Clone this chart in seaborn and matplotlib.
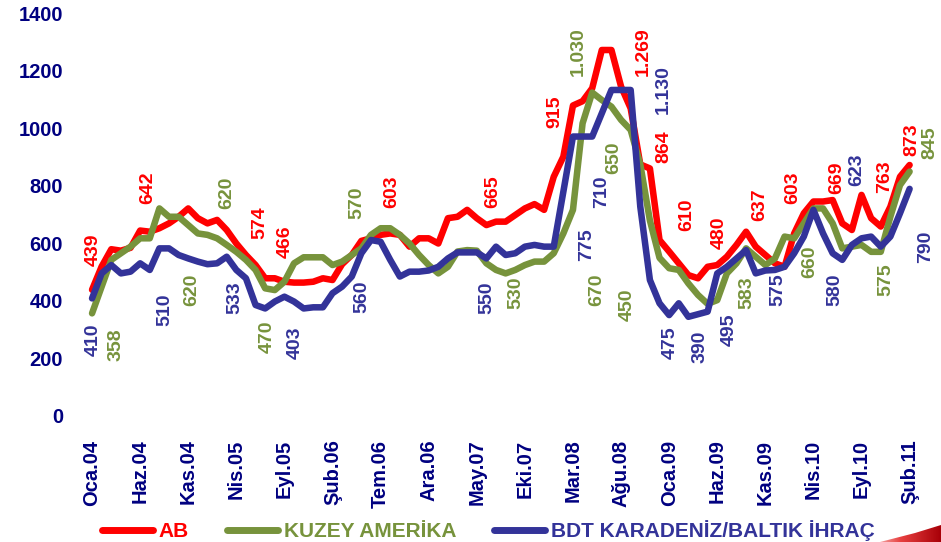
import numpy as np
import pandas as pd
import matplotlib
matplotlib.use("Agg")
import matplotlib.pyplot as plt
from matplotlib.lines import Line2D
from matplotlib.patches import Polygon
from matplotlib.colors import LinearSegmentedColormap
import seaborn as sns

# Monthly values, Oca.04 .. Şub.11 (86 months)
ab = [439, 520, 580, 575, 585, 645, 641, 653, 670, 693,
      722, 688, 670, 682, 647, 600, 560, 525, 479, 479,
      467, 464, 464, 467, 479, 473, 528, 560, 609, 618,
      630, 635, 630, 589, 618, 618, 600, 688, 693, 717,
      688, 664, 676, 676, 699, 722, 737, 717, 832, 902,
      1080, 1095, 1140, 1273, 1273, 1146, 1070, 875, 861, 612,
      572, 531, 490, 479, 519, 525, 554, 595, 641, 589,
      560, 531, 519, 635, 705, 746, 746, 751, 670, 647,
      769, 688, 659, 728, 832, 873]
kuzey = [357, 450, 543, 566, 589, 618, 618, 722, 693, 693,
         664, 635, 630, 618, 595, 571, 543, 508, 444, 438,
         467, 531, 552, 552, 552, 525, 537, 560, 583, 630,
         653, 653, 630, 600, 560, 525, 496, 519, 572, 577,
         575, 531, 508, 496, 508, 525, 537, 537, 566, 635,
         717, 1018, 1125, 1099, 1076, 1030, 995, 875, 680, 550,
         514, 508, 461, 421, 390, 403, 496, 531, 583, 554,
         525, 548, 624, 618, 670, 722, 722, 670, 583, 589,
         595, 571, 571, 693, 803, 850]
bdt = [409, 496, 525, 496, 502, 531, 508, 583, 583, 560,
       548, 537, 528, 531, 554, 508, 479, 386, 374, 398,
       415, 398, 374, 378, 378, 427, 450, 485, 566, 612,
       606, 543, 485, 502, 502, 506, 519, 548, 569, 569,
       569, 548, 589, 560, 566, 589, 595, 589, 589, 780,
       972, 972, 972, 1053, 1134, 1134, 1134, 728, 473, 392,
       351, 392, 345, 354, 363, 496, 519, 548, 577, 496,
       506, 508, 519, 566, 624, 717, 635, 566, 543, 595,
       618, 624, 589, 624, 705, 790]

series_names = ["AB", "KUZEY AMERİKA", "BDT KARADENİZ/BALTIK İHRAÇ"]
colors = ["#ff0000", "#77933c", "#333399"]

tick_labels = ["Oca.04", "Haz.04", "Kas.04", "Nis.05", "Eyl.05", "Şub.06",
               "Tem.06", "Ara.06", "May.07", "Eki.07", "Mar.08", "Ağu.08",
               "Oca.09", "Haz.09", "Kas.09", "Nis.10", "Eyl.10", "Şub.11"]

# value labels written on the chart (text, month position, label height)
ab_lbl = ["439", "642", "574", "466", "603", "665", "915", "1.269", "864",
          "610", "480", "637", "603", "669", "763", "873"]
ab_lbl_x = [0.1, 5.75, 17.4, 20.1, 31.2, 41.7, 48.1, 57.3, 59.4, 61.8,
            65.2, 69.4, 72.9, 77.4, 82.4, 85.2]
ab_lbl_y = [577, 793, 671, 605, 780, 780, 1058, 1266, 936, 699,
            636, 734, 793, 828, 831, 960]
kz_lbl = ["358", "620", "620", "470", "570", "530", "1.030", "670", "650",
          "450", "583", "660", "575", "845"]
kz_lbl_x = [2.5, 10.4, 14.0, 18.2, 27.5, 44.1, 50.5, 52.5, 54.2, 55.6,
            68.1, 74.6, 82.5, 87.1]
kz_lbl_y = [247, 438, 775, 275, 741, 428, 1266, 438, 897, 386,
            428, 536, 473, 950]
bdt_lbl = ["410", "510", "533", "403", "560", "550", "775", "710", "1.130",
           "475", "390", "495", "575", "580", "623", "790"]
bdt_lbl_x = [0.1, 7.6, 14.9, 21.1, 28.1, 41.0, 51.4, 53.0, 59.4, 60.1,
             63.2, 66.3, 71.3, 77.2, 79.5, 86.7]
bdt_lbl_y = [264, 369, 410, 254, 414, 410, 595, 780, 1134, 254,
             240, 299, 438, 438, 856, 588]

# long format for seaborn
months = np.arange(len(ab))
df = pd.DataFrame({
    "month": np.tile(months, 3),
    "value": ab + kuzey + bdt,
    "series": np.repeat(series_names, len(ab)),
})

sns.set_style("white")
plt.rcParams["font.family"] = ["Liberation Sans", "DejaVu Sans"]
navy = "#000080"

fig = plt.figure(figsize=(9.41, 5.42), dpi=100)
ax = fig.add_axes([0.0876, 0.2325, 0.9097, 0.7426])

sns.lineplot(data=df, x="month", y="value", hue="series",
             hue_order=series_names, palette=colors, linewidth=4.7,
             legend=False, ax=ax)

ax.set_xlim(-1, 88)
ax.set_ylim(0, 1400)
ax.set_yticks(range(0, 1401, 200))
ax.set_xticks(range(0, len(ab), 5))
ax.set_xticklabels(tick_labels, rotation=90)
for lab in ax.get_xticklabels() + ax.get_yticklabels():
    lab.set_fontweight("bold")
    lab.set_fontsize(14.5)
    lab.set_color(navy)
ax.tick_params(axis="y", length=0, pad=14)
ax.tick_params(axis="x", length=0, pad=17)
ax.set_xlabel("")
ax.set_ylabel("")
sns.despine(ax=ax, left=True, bottom=True)

# value labels
for texts, xs, ys, c in [(ab_lbl, ab_lbl_x, ab_lbl_y, colors[0]),
                         (kz_lbl, kz_lbl_x, kz_lbl_y, colors[1]),
                         (bdt_lbl, bdt_lbl_x, bdt_lbl_y, colors[2])]:
    for t, x, y in zip(texts, xs, ys):
        ax.text(x, y, t, rotation=90, ha="center", va="center",
                fontsize=14, fontweight="bold", color=c, clip_on=False)

# legend
handles = [Line2D([0], [0], color=c, linewidth=5, solid_capstyle="round")
           for c in colors]
leg = fig.legend(handles, series_names, loc="center",
                 bbox_to_anchor=(0.519, 0.021), ncol=3, frameon=False,
                 handlelength=2.45, handletextpad=0.3, columnspacing=1.8,
                 borderpad=0, borderaxespad=0,
                 prop={"weight": "bold", "size": 15})
for txt, c in zip(leg.get_texts(), colors):
    txt.set_color(c)

# red corner swoosh with a white-to-red fade
sax = fig.add_axes([860 / 941, 0, 81 / 941, 30 / 542])
sax.set_axis_off()
sax.set_xlim(0, 1)
sax.set_ylim(0, 1)
cmap = LinearSegmentedColormap.from_list("swoosh", ["#ffffff", "#e84040", "#a80008"])
img = sax.imshow(np.linspace(0, 1, 200)[None, :], cmap=cmap, aspect="auto",
                 extent=(0, 1, 0, 1))
wedge = Polygon([(20 / 81, 0), (1, 0), (1, 17 / 30), (55 / 81, 9 / 30)],
                closed=True, transform=sax.transData, facecolor="none",
                edgecolor="none")
sax.add_patch(wedge)
img.set_clip_path(wedge)

fig.savefig("out.png", dpi=100)
